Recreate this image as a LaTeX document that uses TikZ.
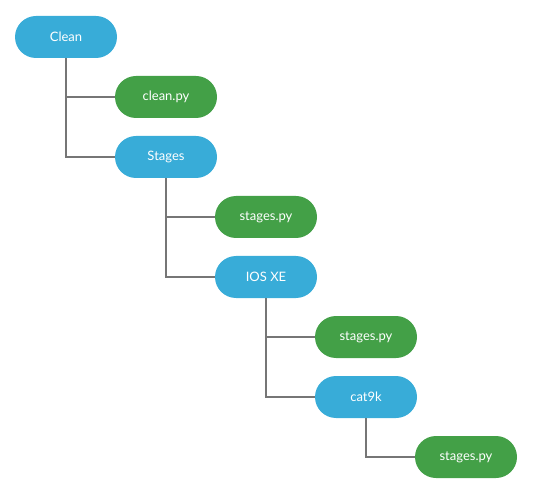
\documentclass[tikz,border=0pt]{standalone}
\usepackage{fontspec}
\setmainfont{Lato}
\usepackage{xcolor}
\usepackage{tikz}
\definecolor{dirblue}{HTML}{38ACD8}
\definecolor{filegreen}{HTML}{43A047}
\definecolor{linegray}{HTML}{767676}
\begin{document}
\begin{tikzpicture}[x=1pt,y=-1pt,
  pill/.style={rounded corners=21pt,minimum width=102pt,minimum height=42pt,inner sep=0pt,text=white,font=\fontsize{13}{15}\selectfont},
  dir/.style={pill,fill=dirblue},
  file/.style={pill,fill=filegreen},
  link/.style={linegray,line width=2pt}]
\useasboundingbox (0,0) rectangle (548,502);
%\draw[help lines] (0,0) grid (548,502);
\node [dir] (clean) at (66,37) {Clean};
\node [file] (cleanpy) at (166,97) {clean.py};
\node [dir] (stages) at (166,157) {Stages};
\node [file] (stagespy) at (266,217) {stages.py};
\node [dir] (iosxe) at (266,277) {IOS XE};
\node [file] (iosxepy) at (366,337) {stages.py};
\node [dir] (cat) at (366,397) {cat9k};
\node [file] (catpy) at (466,457) {stages.py};

\draw [link] (clean.south) |- (cleanpy.west);
\draw [link] (clean.south) |- (stages.west);
\draw [link] (stages.south) |- (stagespy.west);
\draw [link] (stages.south) |- (iosxe.west);
\draw [link] (iosxe.south) |- (iosxepy.west);
\draw [link] (iosxe.south) |- (cat.west);
\draw [link] (cat.south) |- (catpy.west);
\end{tikzpicture}
\end{document}
